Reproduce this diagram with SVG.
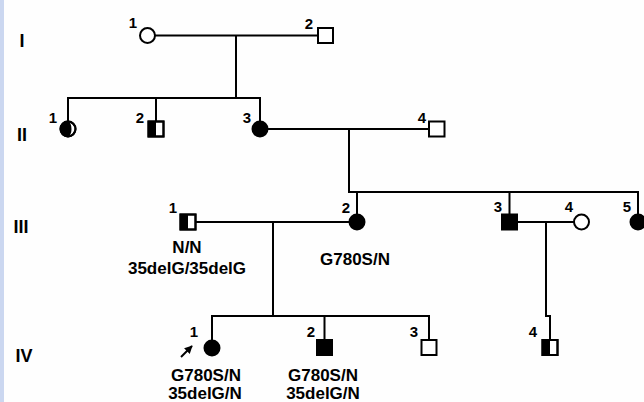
<svg xmlns="http://www.w3.org/2000/svg" width="644" height="402" viewBox="0 0 644 402">
<defs>
<style>
.ln{stroke:#000;stroke-width:2;fill:none}
.sym{stroke:#000;stroke-width:2;fill:#fff}
.aff{fill:#000;stroke:#000;stroke-width:2}
.half{fill:#000}
.t{font-family:"Liberation Sans",Arial,Helvetica,sans-serif;font-weight:bold;fill:#000}
.num{font-size:15px;text-anchor:end}
.gt{font-size:17px;text-anchor:middle}
.gen{font-size:18px;text-anchor:middle}
</style>
<marker id="ah" viewBox="0 0 10 10" refX="9" refY="5" markerWidth="4" markerHeight="4" orient="auto" markerUnits="strokeWidth">
<path d="M0,0 L10,5 L0,10 Z" fill="#000"/>
</marker>
</defs>
<rect x="0" y="0" width="644" height="402" fill="#fefefe"/>
<rect x="0" y="0" width="4" height="402" fill="#cbd7f0"/>

<g id="generations" class="t gen">
<text x="22" y="47">I</text>
<text x="22" y="141">II</text>
<text x="21" y="233">III</text>
<text x="24" y="362">IV</text>
</g>

<g id="connectors" class="ln">
<path d="M155,35.5 H318"/>
<path d="M236,35.5 V98"/>
<path d="M67,98 H261 M68,98 V121.5 M156,98 V121.5 M260,98 V121.5"/>
<path d="M267.5,129 H429"/>
<path d="M349,129 V192 H639"/>
<path d="M357,192 V214.5 M509.5,192 V214.5 M638,192 V214.5"/>
<path d="M195.5,222 H349.5"/>
<path d="M273,222 V316"/>
<path d="M211,316 H430 M212,316 V340 M324.5,316 V340 M429,316 V340"/>
<path d="M517,222 H574"/>
<path d="M546,222 V316 H550 V340"/>
</g>

<g id="I-1"><circle class="sym" cx="147.5" cy="35.5" r="7.5"/><text class="t num" x="137" y="28">1</text></g>
<g id="I-2"><rect class="sym" x="318" y="28" width="15" height="15"/><text class="t num" x="313" y="29">2</text></g>

<g id="II-1"><circle class="sym" cx="68" cy="129" r="7.5"/><path class="half" d="M68,121.5 A7.5,7.5 0 0 0 68,136.5 A3.5,7.5 0 0 0 68,121.5 Z"/><circle cx="68" cy="129" r="7.5" fill="none" stroke="#000" stroke-width="2"/><text class="t num" x="57" y="123">1</text></g>
<g id="II-2"><rect class="sym" x="148.5" y="121.5" width="15" height="15"/><rect class="half" x="148.5" y="121.5" width="7.5" height="15"/><rect x="148.5" y="121.5" width="15" height="15" fill="none" stroke="#000" stroke-width="2"/><text class="t num" x="144" y="123">2</text></g>
<g id="II-3"><circle class="aff" cx="260" cy="129" r="7.5"/><text class="t num" x="251" y="123">3</text></g>
<g id="II-4"><rect class="sym" x="429" y="121.5" width="15.5" height="15"/><text class="t num" x="426" y="123">4</text></g>

<g id="III-1"><rect class="sym" x="180.5" y="214.5" width="15" height="15"/><rect class="half" x="180.5" y="214.5" width="7.5" height="15"/><rect x="180.5" y="214.5" width="15" height="15" fill="none" stroke="#000" stroke-width="2"/><text class="t num" x="177" y="213">1</text>
<text class="t gt" x="187" y="253">N/N</text><text class="t gt" x="187" y="274">35delG/35delG</text></g>
<g id="III-2"><circle class="aff" cx="357" cy="222" r="7.5"/><text class="t num" x="350" y="213">2</text><text class="t gt" x="355" y="265">G780S/N</text></g>
<g id="III-3"><rect class="aff" x="502" y="214.5" width="15" height="15"/><text class="t num" x="502" y="212">3</text></g>
<g id="III-4"><circle class="sym" cx="581.5" cy="222" r="7.5"/><text class="t num" x="573" y="212">4</text></g>
<g id="III-5"><circle class="aff" cx="638" cy="222" r="7.5"/><text class="t num" x="631" y="212">5</text></g>

<g id="IV-1"><circle class="aff" cx="212" cy="348" r="7.5"/><text class="t num" x="198" y="337">1</text>
<line x1="181" y1="357" x2="192" y2="346" stroke="#000" stroke-width="2" marker-end="url(#ah)"/>
<text class="t gt" x="206" y="381">G780S/N</text><text class="t gt" x="205" y="399">35delG/N</text></g>
<g id="IV-2"><rect class="aff" x="317" y="340" width="15" height="15"/><text class="t num" x="315" y="337">2</text>
<text class="t gt" x="323" y="381">G780S/N</text><text class="t gt" x="323" y="399">35delG/N</text></g>
<g id="IV-3"><rect class="sym" x="421.5" y="340" width="15" height="15"/><text class="t num" x="418" y="337">3</text></g>
<g id="IV-4"><rect class="sym" x="542.5" y="340" width="15" height="15"/><rect class="half" x="542.5" y="340" width="7.5" height="15"/><rect x="542.5" y="340" width="15" height="15" fill="none" stroke="#000" stroke-width="2"/><text class="t num" x="537" y="337">4</text></g>
</svg>
